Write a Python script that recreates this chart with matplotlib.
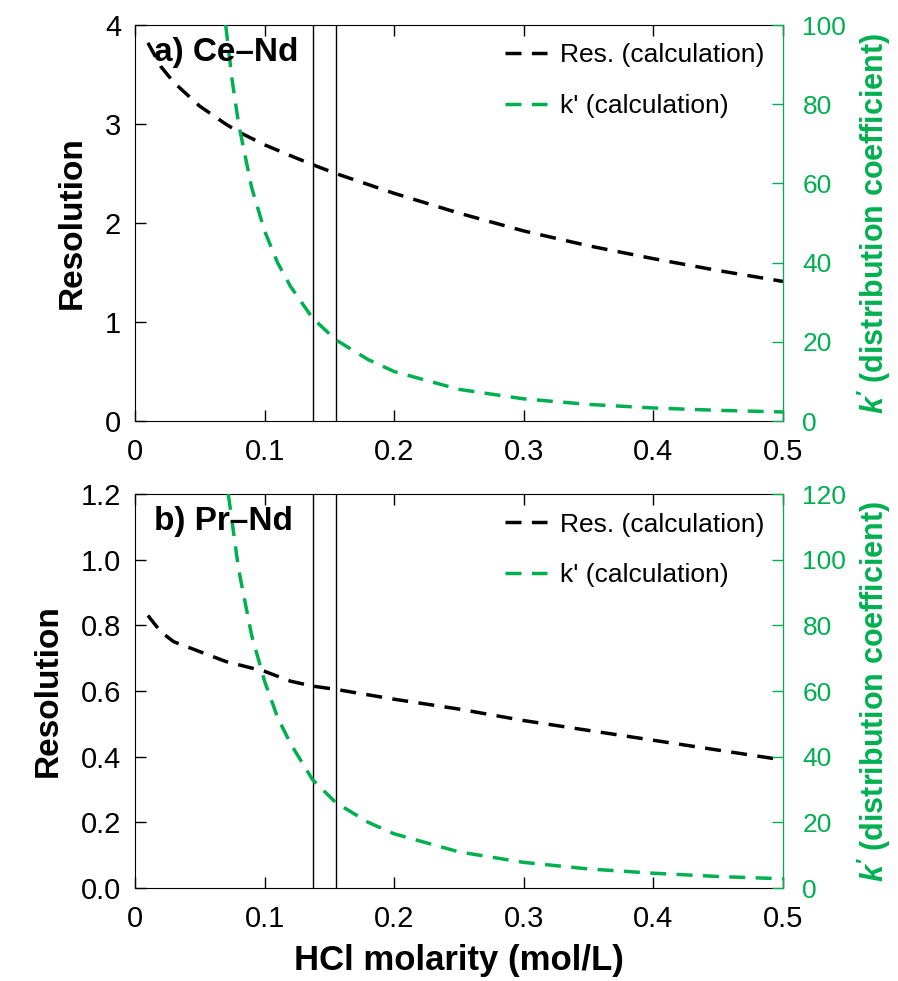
import matplotlib
matplotlib.use("Agg")
import matplotlib.pyplot as plt
from matplotlib import font_manager

# ── data ────────────────────────────────────────────────────────────────────
# a) Ce–Nd
res_a_x = [0.01, 0.02, 0.03, 0.05, 0.07, 0.08, 0.10, 0.12, 0.137, 0.155, 0.2, 0.25, 0.3, 0.35, 0.4, 0.45, 0.5]
res_a_y = [3.82, 3.58, 3.42, 3.18, 3.00, 2.92, 2.79, 2.68, 2.59, 2.50, 2.30, 2.10, 1.92, 1.77, 1.64, 1.52, 1.41]
k_a_x = [0.070, 0.075, 0.08, 0.09, 0.10, 0.11, 0.12, 0.137, 0.155, 0.18, 0.2, 0.25, 0.3, 0.35, 0.4, 0.45, 0.5]
k_a_y = [100, 86, 75, 59, 48, 40, 34, 26, 20.5, 15.5, 12.5, 8.0, 5.6, 4.2, 3.3, 2.7, 2.3]

# b) Pr–Nd
res_b_x = [0.01, 0.02, 0.03, 0.05, 0.07, 0.10, 0.12, 0.137, 0.155, 0.2, 0.25, 0.3, 0.35, 0.4, 0.45, 0.5]
res_b_y = [0.83, 0.78, 0.75, 0.72, 0.69, 0.66, 0.63, 0.615, 0.605, 0.575, 0.545, 0.51, 0.48, 0.45, 0.42, 0.39]
k_b_x = [0.072, 0.08, 0.09, 0.10, 0.11, 0.12, 0.137, 0.155, 0.18, 0.2, 0.25, 0.3, 0.35, 0.4, 0.45, 0.5]
k_b_y = [120, 97, 77, 63, 52, 44, 33, 26, 20, 16.5, 11, 7.8, 5.8, 4.5, 3.5, 2.8]

vlines_x = [0.137, 0.155]
panels = ["a) Ce\u2013Nd", "b) Pr\u2013Nd"]

GREEN = "#00B050"
names = {f.name for f in font_manager.fontManager.ttflist}
NARROW = "Liberation Sans Narrow" if "Liberation Sans Narrow" in names else "Liberation Sans"

plt.rcParams["font.family"] = "Liberation Sans"
plt.rcParams["mathtext.fontset"] = "custom"
plt.rcParams["mathtext.bfit"] = "Liberation Sans:italic:bold"
plt.rcParams["mathtext.rm"] = "Liberation Sans"

fig = plt.figure(figsize=(8.98, 9.81), dpi=100)
ax_a = fig.add_axes([0.1503, 0.5708, 0.7216, 0.4037])
ax_b = fig.add_axes([0.1503, 0.0948, 0.7216, 0.4016])

DASH = (4.6, 3.0)
setups = [
    (ax_a, res_a_x, res_a_y, k_a_x, k_a_y, (0, 4), [0, 1, 2, 3, 4], ["0", "1", "2", "3", "4"],
     (0, 100), [0, 20, 40, 60, 80, 100]),
    (ax_b, res_b_x, res_b_y, k_b_x, k_b_y, (0, 1.2), [0, 0.2, 0.4, 0.6, 0.8, 1.0, 1.2],
     ["0.0", "0.2", "0.4", "0.6", "0.8", "1.0", "1.2"],
     (0, 120), [0, 20, 40, 60, 80, 100, 120]),
]

for i, (ax, rx, ry, kx, ky, ylim, yt, ytl, klim, kt) in enumerate(setups):
    ax2 = ax.twinx()
    l1, = ax.plot(rx, ry, color="black", lw=2.5, ls=(0, DASH), label="Res. (calculation)")
    l2, = ax2.plot(kx, ky, color=GREEN, lw=2.5, ls=(0, DASH), label="k' (calculation)")
    for v in vlines_x:
        ax.axvline(v, color="black", lw=1.0)

    ax.set_xlim(0, 0.5)
    ax.set_ylim(*ylim)
    ax2.set_ylim(*klim)
    ax.set_xticks([0, 0.1, 0.2, 0.3, 0.4, 0.5])
    ax.set_xticklabels(["0", "0.1", "0.2", "0.3", "0.4", "0.5"], fontfamily=NARROW, fontsize=21)
    ax.set_yticks(yt)
    ax.set_yticklabels(ytl, fontfamily=NARROW, fontsize=21)
    ax2.set_yticks(kt)
    ax2.set_yticklabels([str(t) for t in kt], fontsize=19, color=GREEN)

    ax.tick_params(axis="x", direction="in", length=8, width=1, top=True, pad=12)
    ax.tick_params(axis="y", direction="in", length=8, width=1, pad=10)
    ax2.tick_params(axis="y", direction="in", length=8, width=1, colors=GREEN, pad=14)
    ax2.spines["right"].set_color(GREEN)
    for s in ["left", "top", "bottom"]:
        ax2.spines[s].set_visible(False)

    ax.set_ylabel("Resolution", fontsize=24, fontweight="bold", labelpad=12)
    ax2.set_ylabel(r"$\mathbfit{k'}$ (distribution coefficient)", fontsize=22,
                   fontweight="bold", color=GREEN, labelpad=6)

    ax2.text(0.03, 0.97, panels[i], transform=ax.transAxes, fontsize=24,
             fontweight="bold", va="top", ha="left")
    ax2.legend(handles=[l1, l2], loc="upper right", frameon=False, fontsize=19,
               handlelength=1.6, labelspacing=1.0, borderaxespad=0.3, handletextpad=0.5)

ax_b.set_xlabel("HCl molarity (mol/L)", fontsize=25, fontweight="bold", labelpad=8)

fig.savefig("out.png", dpi=100)
